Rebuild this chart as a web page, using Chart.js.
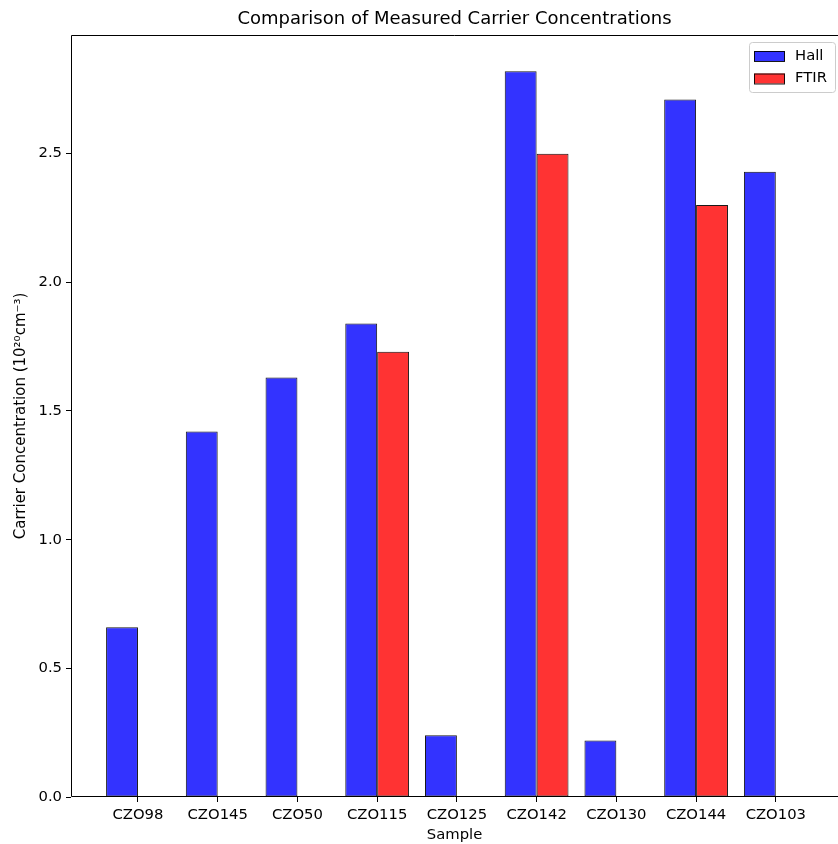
<!DOCTYPE html>
<html>
<head>
<meta charset="utf-8">
<script src="https://cdn.jsdelivr.net/npm/chart.js@4.4.1/dist/chart.umd.min.js"></script>
<style>
    body { margin: 0; background: #fff; }
</style>
</head>
<body>
<canvas id="chart" width="838" height="844"></canvas>
<script>
// samples on the x axis
var samples = ["CZO98", "CZO145", "CZO50", "CZO115", "CZO125", "CZO142", "CZO130", "CZO144", "CZO103"];
// carrier concentration, 10^20 cm^-3
var hallValues = [0.66, 1.42, 1.63, 1.84, 0.24, 2.82, 0.22, 2.71, 2.43];
var ftirValues = [null, null, null, 1.73, null, 2.50, null, 2.30, null];
var yTicks = [0.0, 0.5, 1.0, 1.5, 2.0, 2.5];

var FONT = "DejaVu Sans";

function toPoints(values) {
    return values.map(function (v, i) {
        return {x: i, y: v};
    });
}

// matplotlib style spines (the right one falls outside the picture)
var framePlugin = {
    id: "frame",
    afterDatasetsDraw: function (chart) {
        var a = chart.chartArea;
        var ctx = chart.ctx;
        var l = Math.round(a.left) + 0.5, t = Math.round(a.top) + 0.5;
        var b = Math.round(a.bottom) - 0.5, r = Math.round(a.right);
        ctx.save();
        ctx.strokeStyle = "#000";
        ctx.lineWidth = 1;
        ctx.beginPath();
        ctx.moveTo(r, t);
        ctx.lineTo(l, t);
        ctx.lineTo(l, b);
        ctx.lineTo(r, b);
        ctx.stroke();
        ctx.restore();
    }
};

// legend drawn inside the plot, upper right
var legendPlugin = {
    id: "innerLegend",
    afterDraw: function (chart) {
        var a = chart.chartArea;
        var ctx = chart.ctx;
        var boxW = 86, boxH = 50;
        var x = Math.round(a.right) - boxW - 3, y = Math.round(a.top) + 7;
        ctx.save();
        ctx.beginPath();
        ctx.roundRect(x + 0.5, y + 0.5, boxW, boxH, 3);
        ctx.fillStyle = "rgba(255,255,255,0.8)";
        ctx.fill();
        ctx.strokeStyle = "#cccccc";
        ctx.lineWidth = 1;
        ctx.stroke();
        ctx.font = "14.8px '" + FONT + "'";
        ctx.textBaseline = "middle";
        chart.data.datasets.forEach(function (ds, i) {
            var cy = y + 14 + i * 22.5;
            ctx.fillStyle = ds.backgroundColor;
            ctx.fillRect(x + 5, cy - 5, 31, 10);
            ctx.strokeStyle = ds.borderColor;
            ctx.strokeRect(x + 5.5, cy - 4.5, 30, 10);
            ctx.fillStyle = "#000";
            ctx.fillText(ds.label, x + 46, cy);
        });
        ctx.restore();
    }
};

var chart = new Chart(document.getElementById("chart"), {
    type: "bar",
    data: {
        datasets: [
            {
                label: "Hall",
                data: toPoints(hallValues),
                backgroundColor: "rgba(0, 0, 255, 0.8)",
                borderColor: "rgba(0, 0, 0, 0.9)",
                borderWidth: 1,
                borderSkipped: false,
                categoryPercentage: 0.8,
                barPercentage: 1.0
            },
            {
                label: "FTIR",
                data: toPoints(ftirValues),
                backgroundColor: "rgba(255, 0, 0, 0.8)",
                borderColor: "rgba(0, 0, 0, 0.9)",
                borderWidth: 1,
                borderSkipped: false,
                categoryPercentage: 0.8,
                barPercentage: 1.0
            }
        ]
    },
    options: {
        responsive: false,
        animation: false,
        layout: {padding: {top: 0, right: 0, bottom: 0, left: 0}},
        plugins: {
            legend: {display: false},
            tooltip: {enabled: false},
            title: {
                display: true,
                fullSize: false,
                text: "Comparison of Measured Carrier Concentrations",
                color: "#000",
                font: {family: FONT, size: 18, weight: "normal"},
                padding: {top: 9, bottom: 4.4}
            }
        },
        scales: {
            x: {
                type: "linear",
                offset: false,
                min: -0.84,
                max: 8.78,
                afterBuildTicks: function (scale) {
                    scale.ticks = samples.map(function (s, i) { return {value: i}; });
                },
                afterFit: function (scale) { scale.height = 47; },
                ticks: {
                    color: "#000",
                    font: {family: FONT, size: 14.8},
                    padding: 4,
                    maxRotation: 0,
                    autoSkip: false,
                    callback: function (value) { return samples[value]; }
                },
                grid: {offset: false, drawOnChartArea: false, drawTicks: true, tickLength: 5, color: "#000"},
                border: {display: false},
                title: {
                    display: true,
                    text: "Sample",
                    color: "#000",
                    font: {family: FONT, size: 14.8},
                    padding: {top: 0, bottom: 0}
                }
            },
            y: {
                min: 0,
                max: 2.961,
                afterBuildTicks: function (scale) {
                    scale.ticks = yTicks.map(function (v) { return {value: v}; });
                },
                afterFit: function (scale) { scale.width = 71; },
                ticks: {
                    color: "#000",
                    font: {family: FONT, size: 14.8},
                    padding: 4,
                    callback: function (value) { return Number(value).toFixed(1); }
                },
                grid: {drawOnChartArea: false, drawTicks: true, tickLength: 5, color: "#000"},
                border: {display: false},
                title: {
                    display: true,
                    text: "Carrier Concentration (10\u00b2\u2070cm\u207b\u00b3)",
                    color: "#000",
                    font: {family: FONT, size: 15},
                    padding: {top: 12, bottom: 0}
                }
            }
        }
    },
    plugins: [framePlugin, legendPlugin]
});
</script>
</body>
</html>
